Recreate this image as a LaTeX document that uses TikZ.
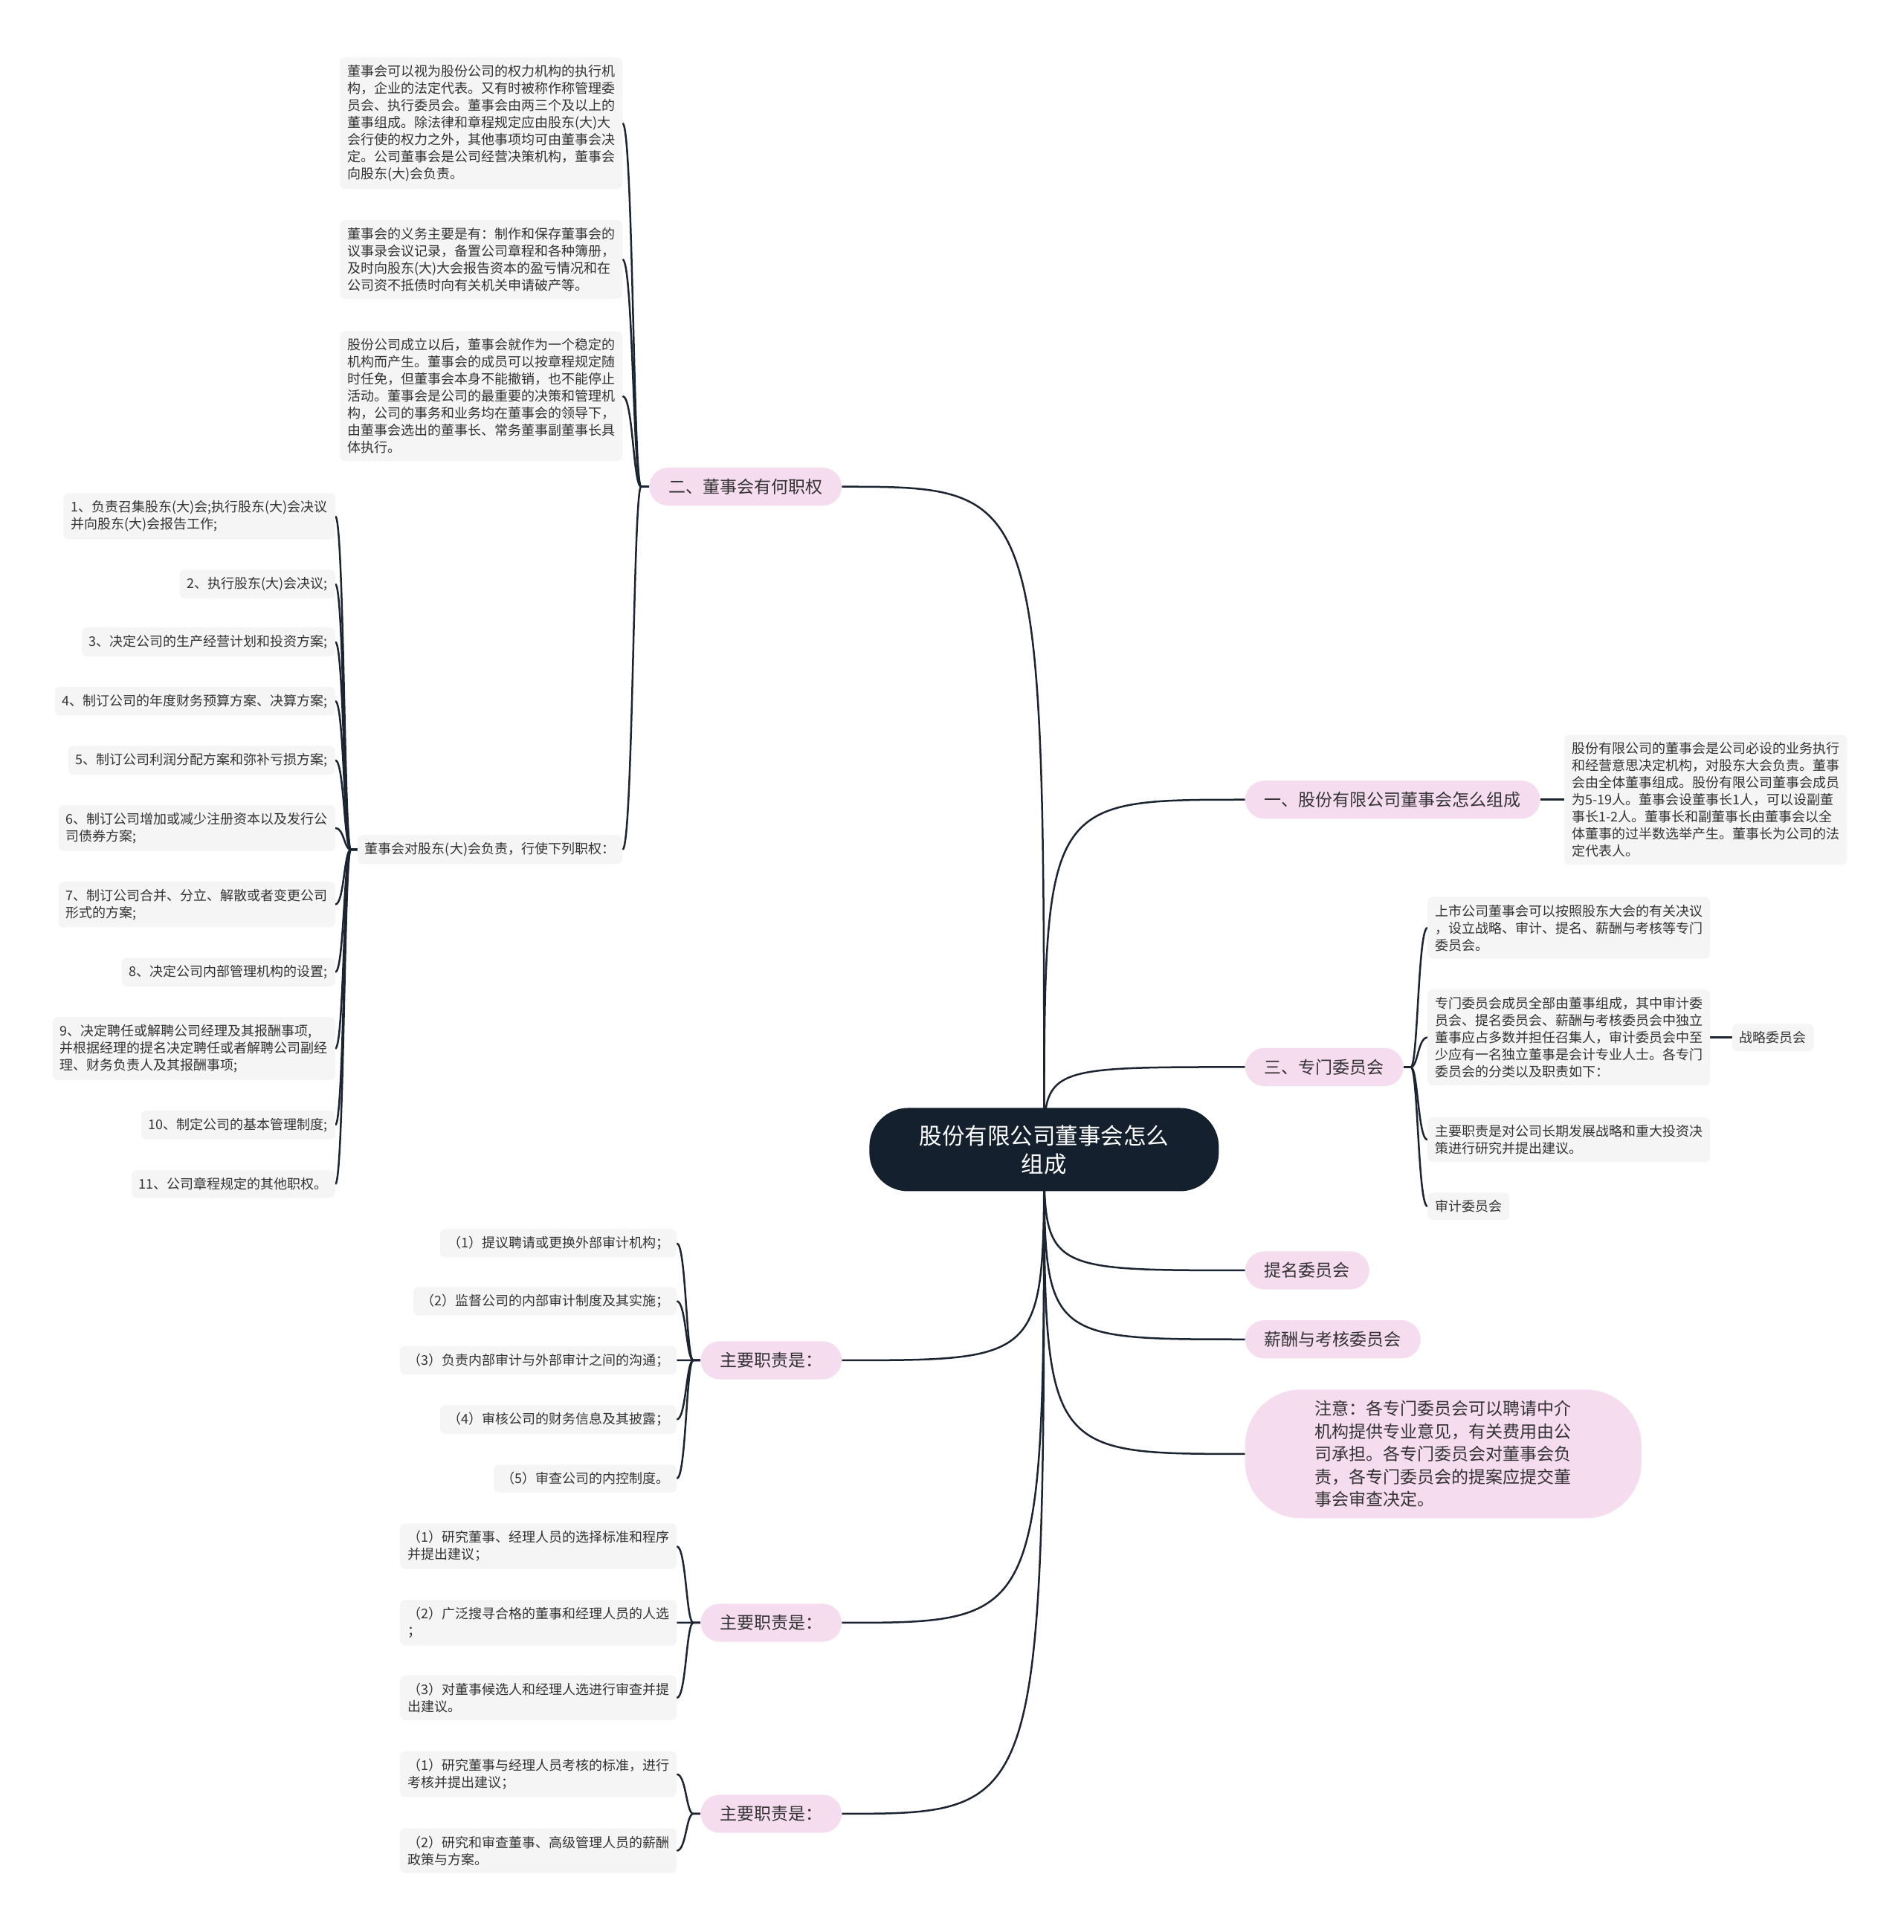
\documentclass[tikz,border=0pt]{standalone}
\usepackage{fontspec}
\setmainfont{Noto Sans CJK SC}
\usetikzlibrary{calc,backgrounds}
\definecolor{rootc}{HTML}{15202E}
\definecolor{pinkc}{HTML}{F5DCEF}
\definecolor{grayc}{HTML}{F5F5F5}
\definecolor{linec}{HTML}{1B2431}
\definecolor{txtc}{HTML}{333333}
\newcommand\lkid[2]{\draw[edge] (#1.west) -- ($(#1.west)!0.3!(#1.west-|#2.east)$) .. controls ($(#1.west)!0.6!(#1.west-|#2.east)$) and ($(#1.west|-#2.east)!0.6!(#2.east)$) .. (#2.east);}
\newcommand\rkid[2]{\draw[edge] (#1.east) -- ($(#1.east)!0.3!(#1.east-|#2.west)$) .. controls ($(#1.east)!0.6!(#1.east-|#2.west)$) and ($(#1.east|-#2.west)!0.6!(#2.west)$) .. (#2.west);}
\begin{document}
\begin{tikzpicture}[x=1.658pt,y=-1.6575pt,
  edge/.style={draw=linec,line width=2.5pt},
  gbox/.style={fill=grayc,rounded corners=7pt,inner xsep=10pt,inner ysep=10pt,align=left,text=txtc,font=\fontsize{18pt}{23pt}\selectfont},
  pbox/.style={fill=pinkc,rounded corners=26pt,inner xsep=26pt,inner ysep=15pt,text=txtc,font=\fontsize{23pt}{30.5pt}\selectfont},
  rootbox/.style={fill=rootc,rounded corners=52pt,minimum width=470pt,minimum height=112pt,align=center,text=white,font=\fontsize{30.5pt}{38pt}\selectfont},
  notebox/.style={fill=pinkc,rounded corners=75pt,minimum width=533pt,minimum height=173pt,align=left,text=txtc,font=\fontsize{23pt}{30.5pt}\selectfont}]
\useasboundingbox (0,0) rectangle (1544,1568);
% root and branches
\node[rootbox] (root) at (847,933) {股份有限公司董事会怎么\\组成};
\node[pbox,anchor=east] (b2) at (683,395) {二、董事会有何职权};
\node[pbox,anchor=west] (b1) at (1010,649) {一、股份有限公司董事会怎么组成};
\node[pbox,anchor=west] (b3) at (1010,866) {三、专门委员会};
\node[pbox,anchor=west] (tm) at (1010,1031) {提名委员会};
\node[pbox,anchor=west] (xc) at (1010,1087) {薪酬与考核委员会};
\node[notebox,anchor=west] (nt) at (1010,1180) {注意：各专门委员会可以聘请中介\\机构提供专业意见，有关费用由公\\司承担。各专门委员会对董事会负\\责，各专门委员会的提案应提交董\\事会审查决定。};
\node[pbox,anchor=east] (ja) at (683,1104) {主要职责是：};
\node[pbox,anchor=east] (jb) at (683,1317) {主要职责是：};
\node[pbox,anchor=east] (jc) at (683,1472) {主要职责是：};
% group 二
\node[gbox,anchor=east] (d1) at (505,100) {董事会可以视为股份公司的权力机构的执行机\\构，企业的法定代表。又有时被称作称管理委\\员会、执行委员会。董事会由两三个及以上的\\董事组成。除法律和章程规定应由股东(大)大\\会行使的权力之外，其他事项均可由董事会决\\定。公司董事会是公司经营决策机构，董事会\\向股东(大)会负责。};
\node[gbox,anchor=east] (d2) at (505,210.5) {董事会的义务主要是有：制作和保存董事会的\\议事录会议记录，备置公司章程和各种簿册，\\及时向股东(大)大会报告资本的盈亏情况和在\\公司资不抵债时向有关机关申请破产等。};
\node[gbox,anchor=east] (d3) at (505,321.5) {股份公司成立以后，董事会就作为一个稳定的\\机构而产生。董事会的成员可以按章程规定随\\时任免，但董事会本身不能撤销，也不能停止\\活动。董事会是公司的最重要的决策和管理机\\构，公司的事务和业务均在董事会的领导下，\\由董事会选出的董事长、常务董事副董事长具\\体执行。};
\node[gbox,anchor=east,minimum width=350pt] (d4) at (505,689.5) {董事会对股东(大)会负责，行使下列职权：};
\node[gbox,anchor=east] (l1) at (272,419) {1、负责召集股东(大)会;执行股东(大)会决议\\并向股东(大)会报告工作;};
\node[gbox,anchor=east] (l2) at (272,474) {2、执行股东(大)会决议;};
\node[gbox,anchor=east] (l3) at (272,521) {3、决定公司的生产经营计划和投资方案;};
\node[gbox,anchor=east] (l4) at (272,569) {4、制订公司的年度财务预算方案、决算方案;};
\node[gbox,anchor=east] (l5) at (272,617) {5、制订公司利润分配方案和弥补亏损方案;};
\node[gbox,anchor=east] (l6) at (272,672) {6、制订公司增加或减少注册资本以及发行公\\司债券方案;};
\node[gbox,anchor=east] (l7) at (272,734) {7、制订公司合并、分立、解散或者变更公司\\形式的方案;};
\node[gbox,anchor=east] (l8) at (272,789) {8、决定公司内部管理机构的设置;};
\node[gbox,anchor=east] (l9) at (272,851) {9、决定聘任或解聘公司经理及其报酬事项,\\并根据经理的提名决定聘任或者解聘公司副经\\理、财务负责人及其报酬事项;};
\node[gbox,anchor=east] (l10) at (272,913) {10、制定公司的基本管理制度;};
\node[gbox,anchor=east] (l11) at (272,961) {11、公司章程规定的其他职权。};
% group 一
\node[gbox,anchor=west] (b1t) at (1269,649) {股份有限公司的董事会是公司必设的业务执行\\和经营意思决定机构，对股东大会负责。董事\\会由全体董事组成。股份有限公司董事会成员\\为5-19人。董事会设董事长1人，可以设副董\\事长1-2人。董事长和副董事长由董事会以全\\体董事的过半数选举产生。董事长为公司的法\\定代表人。};
% group 三
\node[gbox,anchor=west] (c1) at (1158,753) {上市公司董事会可以按照股东大会的有关决议\\，设立战略、审计、提名、薪酬与考核等专门\\委员会。};
\node[gbox,anchor=west] (c2) at (1158,842) {专门委员会成员全部由董事组成，其中审计委\\员会、提名委员会、薪酬与考核委员会中独立\\董事应占多数并担任召集人，审计委员会中至\\少应有一名独立董事是会计专业人士。各专门\\委员会的分类以及职责如下：};
\node[gbox,anchor=west] (c3) at (1158,925) {主要职责是对公司长期发展战略和重大投资决\\策进行研究并提出建议。};
\node[gbox,anchor=west] (c4) at (1158,979) {审计委员会};
\node[gbox,anchor=west] (zl) at (1405,842) {战略委员会};
% group A
\node[gbox,anchor=east] (a1) at (549,1009) {（1）提议聘请或更换外部审计机构；};
\node[gbox,anchor=east] (a2) at (549,1056) {（2）监督公司的内部审计制度及其实施；};
\node[gbox,anchor=east] (a3) at (549,1104) {（3）负责内部审计与外部审计之间的沟通；};
\node[gbox,anchor=east] (a4) at (549,1152) {（4）审核公司的财务信息及其披露；};
\node[gbox,anchor=east] (a5) at (549,1200) {（5）审查公司的内控制度。};
% group B
\node[gbox,anchor=east] (e1) at (549,1255) {（1）研究董事、经理人员的选择标准和程序\\并提出建议；};
\node[gbox,anchor=east] (e2) at (549,1317) {（2）广泛搜寻合格的董事和经理人员的人选\\；};
\node[gbox,anchor=east] (e3) at (549,1378) {（3）对董事候选人和经理人选进行审查并提\\出建议。};
% group C
\node[gbox,anchor=east] (f1) at (549,1440) {（1）研究董事与经理人员考核的标准，进行\\考核并提出建议；};
\node[gbox,anchor=east] (f2) at (549,1502) {（2）研究和审查董事、高级管理人员的薪酬\\政策与方案。};
\begin{scope}[on background layer]
\fill[white] (0,0) rectangle (1544,1568);
% root edges
\draw[edge] (root.center) .. controls (root.center |- b2.east) .. (b2.east);
\draw[edge] (root.center) .. controls (root.center |- b1.west) .. (b1.west);
\draw[edge] (root.center) .. controls (root.center |- b3.west) .. (b3.west);
\draw[edge] (root.center) .. controls (root.center |- tm.west) .. (tm.west);
\draw[edge] (root.center) .. controls (root.center |- xc.west) .. (xc.west);
\draw[edge] (root.center) .. controls (root.center |- nt.west) .. (nt.west);
\draw[edge] (root.center) .. controls (root.center |- ja.east) .. (ja.east);
\draw[edge] (root.center) .. controls (root.center |- jb.east) .. (jb.east);
\draw[edge] (root.center) .. controls (root.center |- jc.east) .. (jc.east);
% children
\lkid{b2}{d1}\lkid{b2}{d2}\lkid{b2}{d3}\lkid{b2}{d4}
\lkid{d4}{l1}\lkid{d4}{l2}\lkid{d4}{l3}\lkid{d4}{l4}\lkid{d4}{l5}\lkid{d4}{l6}
\lkid{d4}{l7}\lkid{d4}{l8}\lkid{d4}{l9}\lkid{d4}{l10}\lkid{d4}{l11}
\draw[edge] (b1.east) -- (b1t.west);
\rkid{b3}{c1}\rkid{b3}{c2}\rkid{b3}{c3}\rkid{b3}{c4}
\draw[edge] (c2.east) -- (zl.west);
\lkid{ja}{a1}\lkid{ja}{a2}\lkid{ja}{a3}\lkid{ja}{a4}\lkid{ja}{a5}
\lkid{jb}{e1}\lkid{jb}{e2}\lkid{jb}{e3}
\lkid{jc}{f1}\lkid{jc}{f2}
\end{scope}
\end{tikzpicture}
\end{document}
